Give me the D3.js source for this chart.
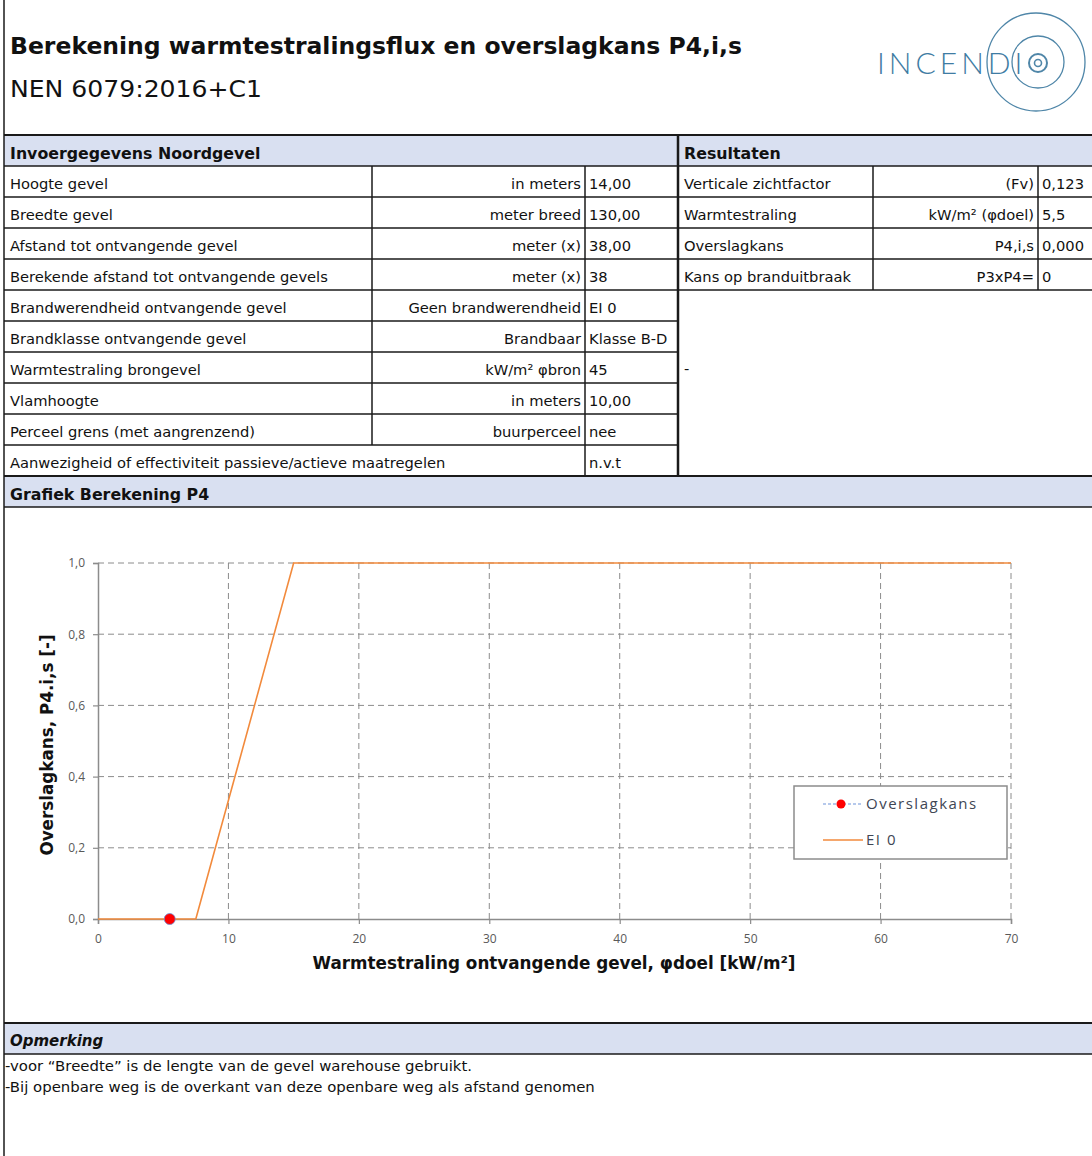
<!DOCTYPE html>
<html><head><meta charset="utf-8">
<script src="https://cdn.jsdelivr.net/npm/d3@7/dist/d3.min.js"></script>
<style>
html,body{margin:0;padding:0;background:#fff;}
svg{display:block;}
</style></head>
<body>
<svg id="c" width="1092" height="1156"></svg>
<script>
// ---- Data ----
const titleText = "Berekening warmtestralingsflux en overslagkans P4,i,s";
const subtitleText = "NEN 6079:2016+C1";
const inputLabels = ["Hoogte gevel","Breedte gevel","Afstand tot ontvangende gevel","Berekende afstand tot ontvangende gevels","Brandwerendheid ontvangende gevel","Brandklasse ontvangende gevel","Warmtestraling brongevel","Vlamhoogte","Perceel grens (met aangrenzend)","Aanwezigheid of effectiviteit passieve/actieve maatregelen"];
const inputUnits = ["in meters","meter breed","meter (x)","meter (x)","Geen brandwerendheid","Brandbaar","kW/m² φbron","in meters","buurperceel",""];
const inputValues = ["14,00","130,00","38,00","38","EI 0","Klasse B-D","45","10,00","nee","n.v.t"];
const resultLabels = ["Verticale zichtfactor","Warmtestraling","Overslagkans","Kans op branduitbraak"];
const resultUnits = ["(Fv)","kW/m² (φdoel)","P4,i,s","P3xP4="];
const resultValues = ["0,123","5,5","0,000","0"];
const notes = ["-voor “Breedte” is de lengte van de gevel warehouse gebruikt.","-Bij openbare weg is de overkant van deze openbare weg als afstand genomen"];

const ei0X = [0, 7.5, 15, 70];
const ei0Y = [0, 0, 1, 1];
const pointX = [5.5];
const pointY = [0];
const xTicks = [0,10,20,30,40,50,60,70];
const yTicks = [0,0.2,0.4,0.6,0.8,1.0];
const seriesNames = ["Overslagkans","EI 0"];

// ---- Drawing ----
const svg = d3.select("#c");
const W = 1092;
const hdrFill = "#d9e0f1";
const lineCol = "#1a1a1a";
const tFont = "'DejaVu Sans', Verdana, sans-serif";
const tSize = 14.7;
const bFont = "'DejaVu Sans', Verdana, sans-serif";

// Title
svg.append("text").attr("x",10).attr("y",54).attr("font-family",bFont).attr("font-weight","bold")
  .attr("font-size",23).attr("fill","#111").attr("textLength",732).attr("lengthAdjust","spacingAndGlyphs").text(titleText);
svg.append("text").attr("x",10).attr("y",97).attr("font-family",bFont)
  .attr("font-size",23).attr("fill","#111").attr("textLength",252).attr("lengthAdjust","spacingAndGlyphs").text(subtitleText);

// Logo
const logo = svg.append("g").attr("stroke","#4f86a8").attr("fill","none").attr("stroke-width",1.3);
logo.append("circle").attr("cx",1036).attr("cy",62).attr("r",49);
logo.append("circle").attr("cx",1038).attr("cy",62).attr("r",26);
logo.append("circle").attr("cx",1038).attr("cy",63).attr("r",9).attr("stroke-width",2);
logo.append("circle").attr("cx",1038).attr("cy",63).attr("r",3.5).attr("stroke-width",1.6);
svg.append("text").attr("x",877).attr("y",74).attr("font-family","Lato, 'Open Sans', sans-serif")
  .attr("font-weight",300).attr("font-size",30).attr("letter-spacing",4).attr("fill","#3f7ca3").text("INCENDI");

// Table geometry
const top0 = 135, rowH = 31;
const xCols = [4, 372, 585, 678, 873, 1038, 1092];
function hline(x1,x2,y,w){svg.append("line").attr("x1",x1).attr("x2",x2).attr("y1",y).attr("y2",y).attr("stroke",lineCol).attr("stroke-width",w||1);}
function vline(x,y1,y2,w){svg.append("line").attr("x1",x).attr("x2",x).attr("y1",y1).attr("y2",y2).attr("stroke",lineCol).attr("stroke-width",w||1);}

// header row
svg.append("rect").attr("x",4).attr("y",top0).attr("width",W-4).attr("height",rowH).attr("fill",hdrFill);
svg.append("text").attr("x",10).attr("y",top0+24).attr("font-family",bFont).attr("font-weight","bold").attr("font-size",15.8).attr("fill","#111").text("Invoergegevens Noordgevel");
svg.append("text").attr("x",684).attr("y",top0+24).attr("font-family",bFont).attr("font-weight","bold").attr("font-size",15.8).attr("fill","#111").text("Resultaten");
hline(4,W,top0,2);
hline(4,W,top0+rowH,1.5);

// input rows
inputLabels.forEach((lab,i)=>{
  const y0 = top0 + rowH*(i+1);
  const ty = y0 + 23;
  svg.append("text").attr("x",10).attr("y",ty).attr("font-family",tFont).attr("font-size",tSize).attr("fill","#111").text(lab);
  if(inputUnits[i]) svg.append("text").attr("x",xCols[2]-4).attr("y",ty).attr("text-anchor","end").attr("font-family",tFont).attr("font-size",tSize).attr("fill","#111").text(inputUnits[i]);
  svg.append("text").attr("x",xCols[2]+4).attr("y",ty).attr("font-family",tFont).attr("font-size",tSize).attr("fill","#111").text(inputValues[i]);
  hline(4,xCols[3], y0+rowH, 1.5);
  if(i<inputLabels.length-1) vline(xCols[1], y0, y0+rowH, 1.5);
});
const tableBottom = top0 + rowH*(inputLabels.length+1);
vline(xCols[2], top0+rowH, tableBottom, 1.5);
vline(xCols[3], top0, tableBottom, 2.5);

// results rows
resultLabels.forEach((lab,i)=>{
  const y0 = top0 + rowH*(i+1);
  const ty = y0 + 23;
  svg.append("text").attr("x",684).attr("y",ty).attr("font-family",tFont).attr("font-size",tSize).attr("fill","#111").text(lab);
  svg.append("text").attr("x",xCols[5]-4).attr("y",ty).attr("text-anchor","end").attr("font-family",tFont).attr("font-size",tSize).attr("fill","#111").text(resultUnits[i]);
  svg.append("text").attr("x",xCols[5]+4).attr("y",ty).attr("font-family",tFont).attr("font-size",tSize).attr("fill","#111").text(resultValues[i]);
  hline(xCols[3],W,y0+rowH,1.5);
  vline(xCols[4], y0, y0+rowH, 1.5);
  vline(xCols[5], y0, y0+rowH, 1.5);
});
svg.append("text").attr("x",684).attr("y",top0+rowH*7+22).attr("font-family",tFont).attr("font-size",tSize).attr("fill","#111").text("-");

// Grafiek header
svg.append("rect").attr("x",4).attr("y",tableBottom).attr("width",W-4).attr("height",rowH).attr("fill",hdrFill);
hline(4,W,tableBottom,2);
hline(4,W,tableBottom+rowH,1.5);
svg.append("text").attr("x",10).attr("y",tableBottom+24).attr("font-family",bFont).attr("font-weight","bold").attr("font-size",15.8).attr("fill","#111").text("Grafiek Berekening P4");

// Opmerking header
const opY = 1023;
svg.append("rect").attr("x",4).attr("y",opY).attr("width",W-4).attr("height",rowH).attr("fill",hdrFill);
hline(4,W,opY,2);
hline(4,W,opY+rowH,1.5);
svg.append("text").attr("x",10).attr("y",opY+23).attr("font-family",bFont).attr("font-weight","bold").attr("font-style","italic").attr("font-size",15).attr("fill","#111").text("Opmerking");
notes.forEach((n,i)=>{
  svg.append("text").attr("x",5).attr("y",1071+i*21).attr("font-family",tFont).attr("font-size",14.9).attr("fill","#111").text(n);
});

// left border
vline(4,0,1156,1.5);

// ---- Chart ----
const x = d3.scaleLinear().domain([0,70]).range([98,1011]);
const y = d3.scaleLinear().domain([0,1]).range([919,563]);
const gridCol = "#8c8c8c";
const g = svg.append("g");
// grid
g.selectAll(".gx").data(xTicks.slice(1)).enter().append("line")
  .attr("x1",d=>x(d)).attr("x2",d=>x(d)).attr("y1",y(0)).attr("y2",y(1))
  .attr("stroke",gridCol).attr("stroke-dasharray","6,4").attr("stroke-width",1);
g.selectAll(".gy").data(yTicks.slice(1)).enter().append("line")
  .attr("x1",x(0)).attr("x2",x(70)).attr("y1",d=>y(d)).attr("y2",d=>y(d))
  .attr("stroke",gridCol).attr("stroke-dasharray","6,4").attr("stroke-width",1);

// axes
const xAxis = d3.axisBottom(x).tickValues(xTicks).tickSize(5).tickFormat(d=>d);
const yAxis = d3.axisLeft(y).tickValues(yTicks).tickSize(5).tickFormat(d=>d3.format(".1f")(d).replace(".",","));
const gx = g.append("g").attr("transform",`translate(0,${y(0)})`).call(xAxis);
const gy = g.append("g").attr("transform",`translate(${x(0)},0)`).call(yAxis);
[gx,gy].forEach(a=>{
  a.select(".domain").attr("stroke","#8c8c8c").attr("stroke-width",1.5);
  a.selectAll(".tick line").attr("stroke","#8c8c8c").attr("stroke-width",1.2);
  a.selectAll(".tick text").attr("fill","#595959").attr("font-family","'Open Sans', sans-serif").attr("font-size",12);
});
gx.selectAll(".tick text").attr("dy","1.3em");
gy.selectAll(".tick text").attr("dx","-5");

// axis titles
g.append("text").attr("x",554).attr("y",969).attr("text-anchor","middle")
  .attr("font-family",bFont).attr("font-weight","bold").attr("font-size",16.8).attr("fill","#111")
  .text("Warmtestraling ontvangende gevel, φdoel [kW/m²]");
g.append("text").attr("transform",`translate(53,745) rotate(-90)`).attr("text-anchor","middle")
  .attr("font-family",bFont).attr("font-weight","bold").attr("font-size",16.8).attr("fill","#111")
  .text("Overslagkans, P4.i,s [-]");

// EI 0 line
const ei0 = ei0X.map((v,i)=>[v,ei0Y[i]]);
g.append("path").datum(ei0).attr("d",d3.line().x(d=>x(d[0])).y(d=>y(d[1])))
  .attr("fill","none").attr("stroke","#f28a3c").attr("stroke-width",1.6);
// point
g.selectAll(".pt").data(pointX.map((v,i)=>[v,pointY[i]])).enter().append("circle")
  .attr("cx",d=>x(d[0])).attr("cy",d=>y(d[1])).attr("r",5.5).attr("fill","#ff0000").attr("stroke","#6d8fd6").attr("stroke-width",0.8);

// legend
const lg = g.append("g").attr("transform","translate(794,786)");
lg.append("rect").attr("width",213).attr("height",73).attr("fill","#fff").attr("stroke","#8c8c8c").attr("stroke-width",1.5);
lg.append("line").attr("x1",29).attr("x2",69).attr("y1",18).attr("y2",18).attr("stroke","#6f93d9").attr("stroke-dasharray","3,2").attr("stroke-width",1.2);
lg.append("circle").attr("cx",47).attr("cy",18).attr("r",4.5).attr("fill","#ff0000");
lg.append("line").attr("x1",29).attr("x2",69).attr("y1",54).attr("y2",54).attr("stroke","#f28a3c").attr("stroke-width",1.6);
lg.append("text").attr("x",72).attr("y",23).attr("font-family","'Open Sans', sans-serif").attr("font-size",15).attr("letter-spacing",1.5).attr("fill","#404654").text(seriesNames[0]);
lg.append("text").attr("x",72).attr("y",59).attr("font-family","'Open Sans', sans-serif").attr("font-size",15).attr("letter-spacing",1.5).attr("fill","#404654").text(seriesNames[1]);
</script>
</body></html>
